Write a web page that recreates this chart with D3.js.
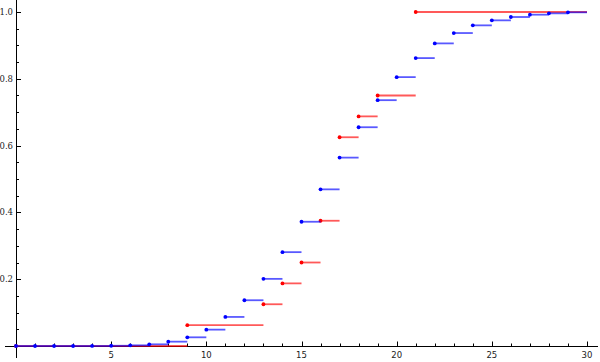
<!DOCTYPE html>
<html>
<head>
<meta charset="utf-8">
<script src="https://cdn.jsdelivr.net/npm/d3@7"></script>
<style>
  body { margin: 0; background: #fff; }
</style>
</head>
<body>
<script>
// blue series: value at every integer, step to the next one
var blueX = [0, 1, 2, 3, 4, 5, 6, 7, 8, 9, 10, 11, 12, 13, 14, 15, 16, 17, 18, 19, 20, 21, 22, 23, 24, 25, 26, 27, 28, 29];
var blueY = [0, 0, 0, 0, 0.0001, 0.0007, 0.002, 0.005, 0.013, 0.026, 0.049, 0.087, 0.137, 0.201, 0.281, 0.372, 0.469, 0.564, 0.655, 0.736, 0.805, 0.862, 0.906, 0.937, 0.960, 0.975, 0.985, 0.992, 0.996, 0.999];
// red series: only the jumps
var redX = [0, 9, 13, 14, 15, 16, 17, 18, 19, 21];
var redY = [0, 0.0625, 0.125, 0.1875, 0.25, 0.375, 0.625, 0.6875, 0.75, 1.0];
var xTicks = [5, 10, 15, 20, 25, 30];
var yTicks = [0.2, 0.4, 0.6, 0.8, 1.0];
var xEnd = 30;

var width = 600, height = 362;
var svg = d3.select("body").append("svg")
    .attr("width", width)
    .attr("height", height);

var x = d3.scaleLinear().domain([0, 30]).range([16, 587]);
var y = d3.scaleLinear().domain([0, 1]).range([346, 12]);

// axes, Mathematica style: crossing at the origin, ticks pointing inward
var minorX = d3.range(1, 31);
var minorY = d3.range(0.05, 1.04, 0.05);

var xAxis = svg.append("g");
xAxis.append("line")
    .attr("x1", 5).attr("x2", 598)
    .attr("y1", y(0) + 0.5).attr("y2", y(0) + 0.5)
    .attr("stroke", "#000");
xAxis.selectAll(".mx").data(minorX).enter().append("line")
    .attr("x1", function(d) { return Math.round(x(d)) + 0.5; })
    .attr("x2", function(d) { return Math.round(x(d)) + 0.5; })
    .attr("y1", y(0))
    .attr("y2", function(d) { return y(0) - (d % 5 == 0 ? 4.5 : 2.5); })
    .attr("stroke", "#000");
xAxis.selectAll("text").data(xTicks).enter().append("text")
    .attr("x", function(d) { return x(d); })
    .attr("y", 358)
    .style("text-anchor", "middle")
    .attr("font-family", "DejaVu Sans")
    .attr("font-size", "8.5px")
    .attr("fill", "#222")
    .text(function(d) { return d; });

var yAxis = svg.append("g");
yAxis.append("line")
    .attr("x1", 16.5).attr("x2", 16.5)
    .attr("y1", 0).attr("y2", 358)
    .attr("stroke", "#000");
yAxis.selectAll(".my").data(minorY).enter().append("line")
    .attr("x1", 16)
    .attr("x2", function(d, i) { return (i + 1) % 4 == 0 ? 21 : 19; })
    .attr("y1", function(d) { return Math.round(y(d)) + 0.5; })
    .attr("y2", function(d) { return Math.round(y(d)) + 0.5; })
    .attr("stroke", "#000");
yAxis.selectAll("text").data(yTicks).enter().append("text")
    .attr("x", 13)
    .attr("y", function(d) { return y(d); })
    .attr("dy", "0.35em")
    .style("text-anchor", "end")
    .attr("font-family", "DejaVu Serif")
    .attr("font-size", "8.5px")
    .attr("fill", "#222")
    .text(function(d) { return d3.format(".1f")(d); });

//step segments and dots
function drawSteps(xs, ys, color) {
    var g = svg.append("g");
    var pts = xs.map(function(d, i) {
        return { x0: d, x1: i < xs.length - 1 ? xs[i + 1] : xEnd, v: ys[i] };
    });
    g.selectAll("line").data(pts).enter().append("line")
        .attr("x1", function(d) { return x(d.x0); })
        .attr("x2", function(d) { return x(d.x1); })
        .attr("y1", function(d) { return y(d.v); })
        .attr("y2", function(d) { return y(d.v); })
        .attr("stroke", color)
        .attr("stroke-width", 1.8)
        .attr("stroke-opacity", 0.65);
    g.selectAll("circle").data(pts).enter().append("circle")
        .attr("cx", function(d) { return x(d.x0); })
        .attr("cy", function(d) { return y(d.v); })
        .attr("r", 1.9)
        .style("fill", color);
}

drawSteps(redX, redY, "#ff0000");
drawSteps(blueX, blueY, "#0000ff");
</script>
</body>
</html>
